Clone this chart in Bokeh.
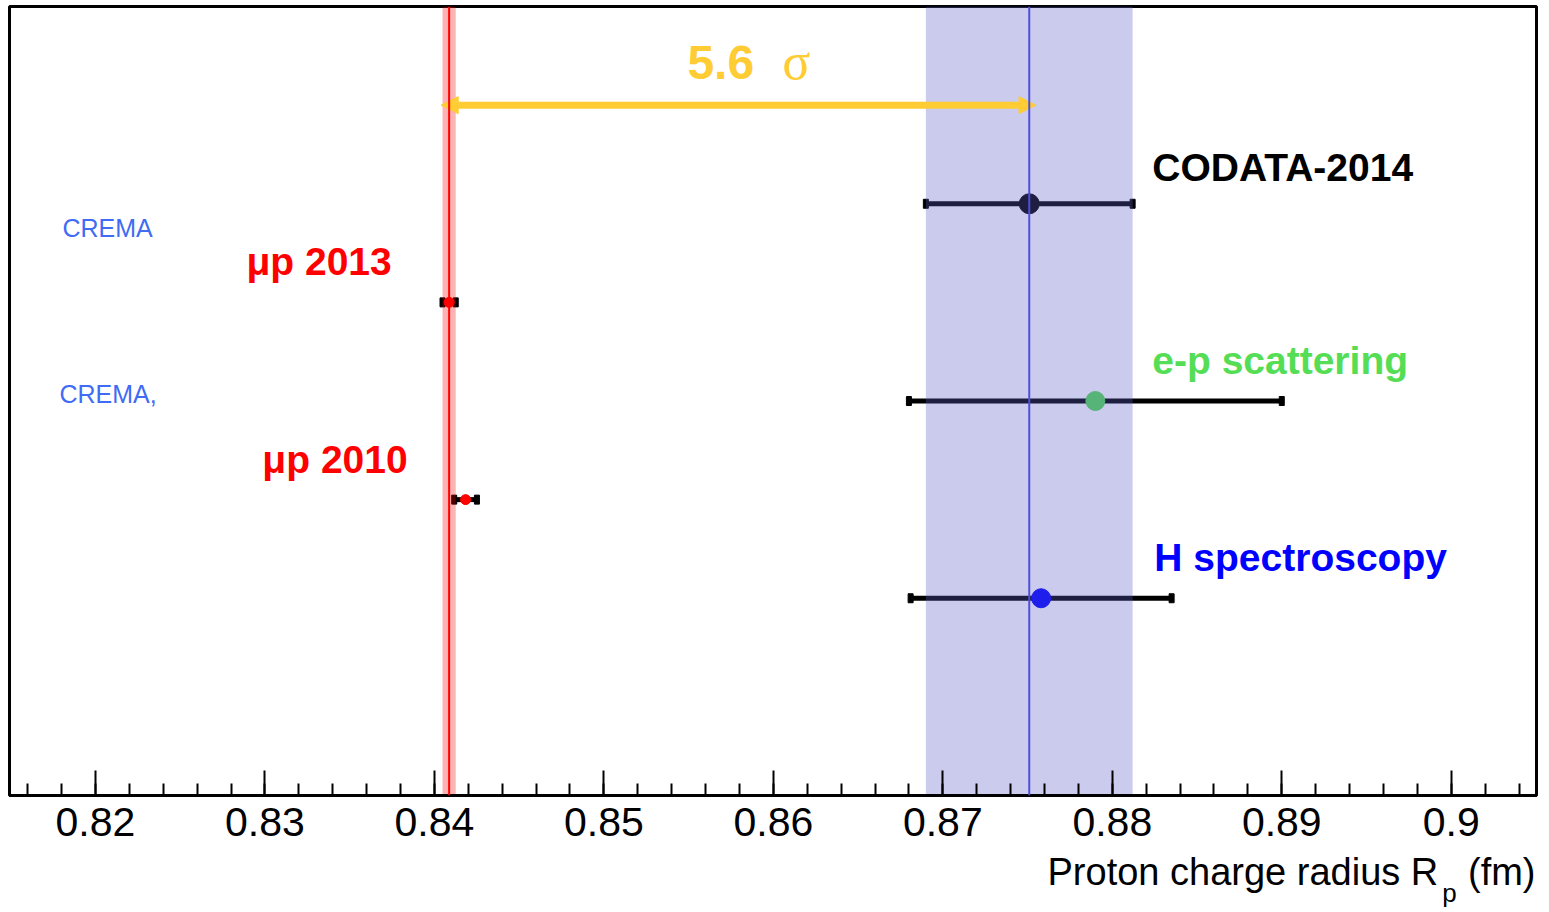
from bokeh.plotting import figure
from bokeh.layouts import column
from bokeh.models import Range1d, FixedTicker, Arrow, NormalHead, Span
from bokeh.core.properties import value
from bokeh.embed import file_html
from bokeh.resources import INLINE

# ---------------- data ----------------
names = ["CODATA-2014", "μp 2013", "e-p scattering", "μp 2010", "H spectroscopy"]
rows = [6, 5, 4, 3, 2]
radius = [0.8751, 0.84087, 0.879, 0.84184, 0.8758]
error = [0.0061, 0.00039, 0.011, 0.00067, 0.0077]

muon_center = 0.84087
muon_error = 0.00039
codata_center = 0.8751
codata_error = 0.0061

sigma_label = "5.6"
sigma_symbol = "σ"
arrow_start = 0.8404
arrow_end = 0.8755
arrow_row = 7.0

tick_values = [0.82, 0.83, 0.84, 0.85, 0.86, 0.87, 0.88, 0.89, 0.90]
tick_labels = ["0.82", "0.83", "0.84", "0.85", "0.86", "0.87", "0.88", "0.89", "0.9"]
minor_tick_values = [round(0.816 + 0.002 * i, 3) for i in range(45)]

axis_title = "Proton charge radius R"
axis_title_sub = "p"
axis_title_unit = "(fm)"

# ---------------- styles ----------------
SANS = "Liberation Sans"
GOLD = "#FFCC33"
point_colors = ["#000000", "#FF0000", "#55DD55", "#FF0000", "#0000FF"]
point_sizes = [20, 10, 19, 10, 19]

W = 1539
p = figure(width=W, height=847,
           x_range=Range1d(0.81493, 0.90503), y_range=Range1d(0, 8),
           output_backend="svg", toolbar_location=None,
           y_axis_location=None,
           min_border_left=9, min_border_right=3, min_border_top=6,
           min_border_bottom=52)
p.grid.visible = False
p.outline_line_color = "black"
p.outline_line_width = 3
p.background_fill_color = "white"
p.border_fill_color = "white"

ax = p.xaxis[0]
ax.ticker = FixedTicker(ticks=tick_values, minor_ticks=minor_tick_values)
ax.major_label_overrides = dict(zip(tick_values, tick_labels))
ax.axis_line_width = 3
ax.axis_line_color = "black"
ax.major_tick_in = 25
ax.major_tick_out = 0
ax.minor_tick_in = 12
ax.minor_tick_out = 0
ax.major_tick_line_width = 2
ax.minor_tick_line_width = 2
ax.major_label_text_font = SANS
ax.major_label_text_font_size = "41px"
ax.major_label_text_color = "black"
ax.major_label_standoff = 12

# error bars
lo = [r - e for r, e in zip(radius, error)]
hi = [r + e for r, e in zip(radius, error)]
p.segment(x0=lo, y0=rows, x1=hi, y1=rows, line_color="black", line_width=5)
p.rect(x=lo + hi, y=rows + rows, width=5, height=9, width_units="screen",
       height_units="screen", fill_color="black", line_color="black")

# points
p.scatter(x=radius, y=rows, size=point_sizes, fill_color=point_colors,
          line_color=point_colors, marker="circle")

# bands (translucent, on top of bars/points)
p.quad(left=[codata_center - codata_error], right=[codata_center + codata_error],
       bottom=[0], top=[8], fill_color="#5E5EC8", fill_alpha=0.32, line_color=None)
p.quad(left=[muon_center - muon_error], right=[muon_center + muon_error],
       bottom=[0], top=[8], fill_color="#FF0000", fill_alpha=0.3, line_color=None)

# arrow
p.add_layout(Arrow(x_start=arrow_start, y_start=arrow_row, x_end=arrow_end, y_end=arrow_row,
                   line_color=GOLD, line_width=7,
                   start=NormalHead(size=17, fill_color=GOLD, line_color=GOLD),
                   end=NormalHead(size=17, fill_color=GOLD, line_color=GOLD)))

# center lines
p.add_layout(Span(location=codata_center, dimension="height", line_color="#4F4FDA", line_width=2))
p.add_layout(Span(location=muon_center, dimension="height", line_color="#FF0000", line_width=2))

def txt(fig, x, y, s, color, size, font=SANS, style="bold", align="left"):
    fig.text(x=[x], y=[y], text=[s], text_color=color, text_font=value(font),
             text_font_size=size, text_font_style=style,
             text_align=align, text_baseline="alphabetic")

txt(p, 0.88236, 6.367, names[0], "black", "39px")
txt(p, 0.82891, 5.41, names[1], "#FF0000", "39px")
txt(p, 0.88236, 4.41, names[2], "#55DD55", "39px")
txt(p, 0.82985, 3.41, names[3], "#FF0000", "39px")
txt(p, 0.88248, 2.412, names[4], "#0000FF", "39px")
txt(p, 0.81805, 5.752, "CREMA", "#3F6BF5", "25px", style="normal")
txt(p, 0.81788, 4.069, "CREMA,", "#3F6BF5", "25px", style="normal")
txt(p, 0.85493, 7.437, sigma_label, GOLD, "48px")
txt(p, 0.86053, 7.44, sigma_symbol, GOLD, "52px", font="Liberation Serif", style="normal")

# axis title strip (pixel coordinates, y downward)
QH = 62
q = figure(width=W, height=QH, x_range=Range1d(0, W), y_range=Range1d(QH, 0),
           output_backend="svg", toolbar_location=None,
           x_axis_location=None, y_axis_location=None,
           min_border_left=0, min_border_right=0, min_border_top=0, min_border_bottom=0)
q.grid.visible = False
q.outline_line_color = None
q.background_fill_color = "white"
q.border_fill_color = "white"
txt(q, 1440, 24, axis_title, "black", "38px", style="normal", align="right")
txt(q, 1444, 45, axis_title_sub, "black", "26px", style="normal")
txt(q, 1538, 24, axis_title_unit, "black", "38px", style="normal", align="right")

layout = column(p, q, spacing=0)
open("out.html", "w").write(file_html(layout, INLINE))
